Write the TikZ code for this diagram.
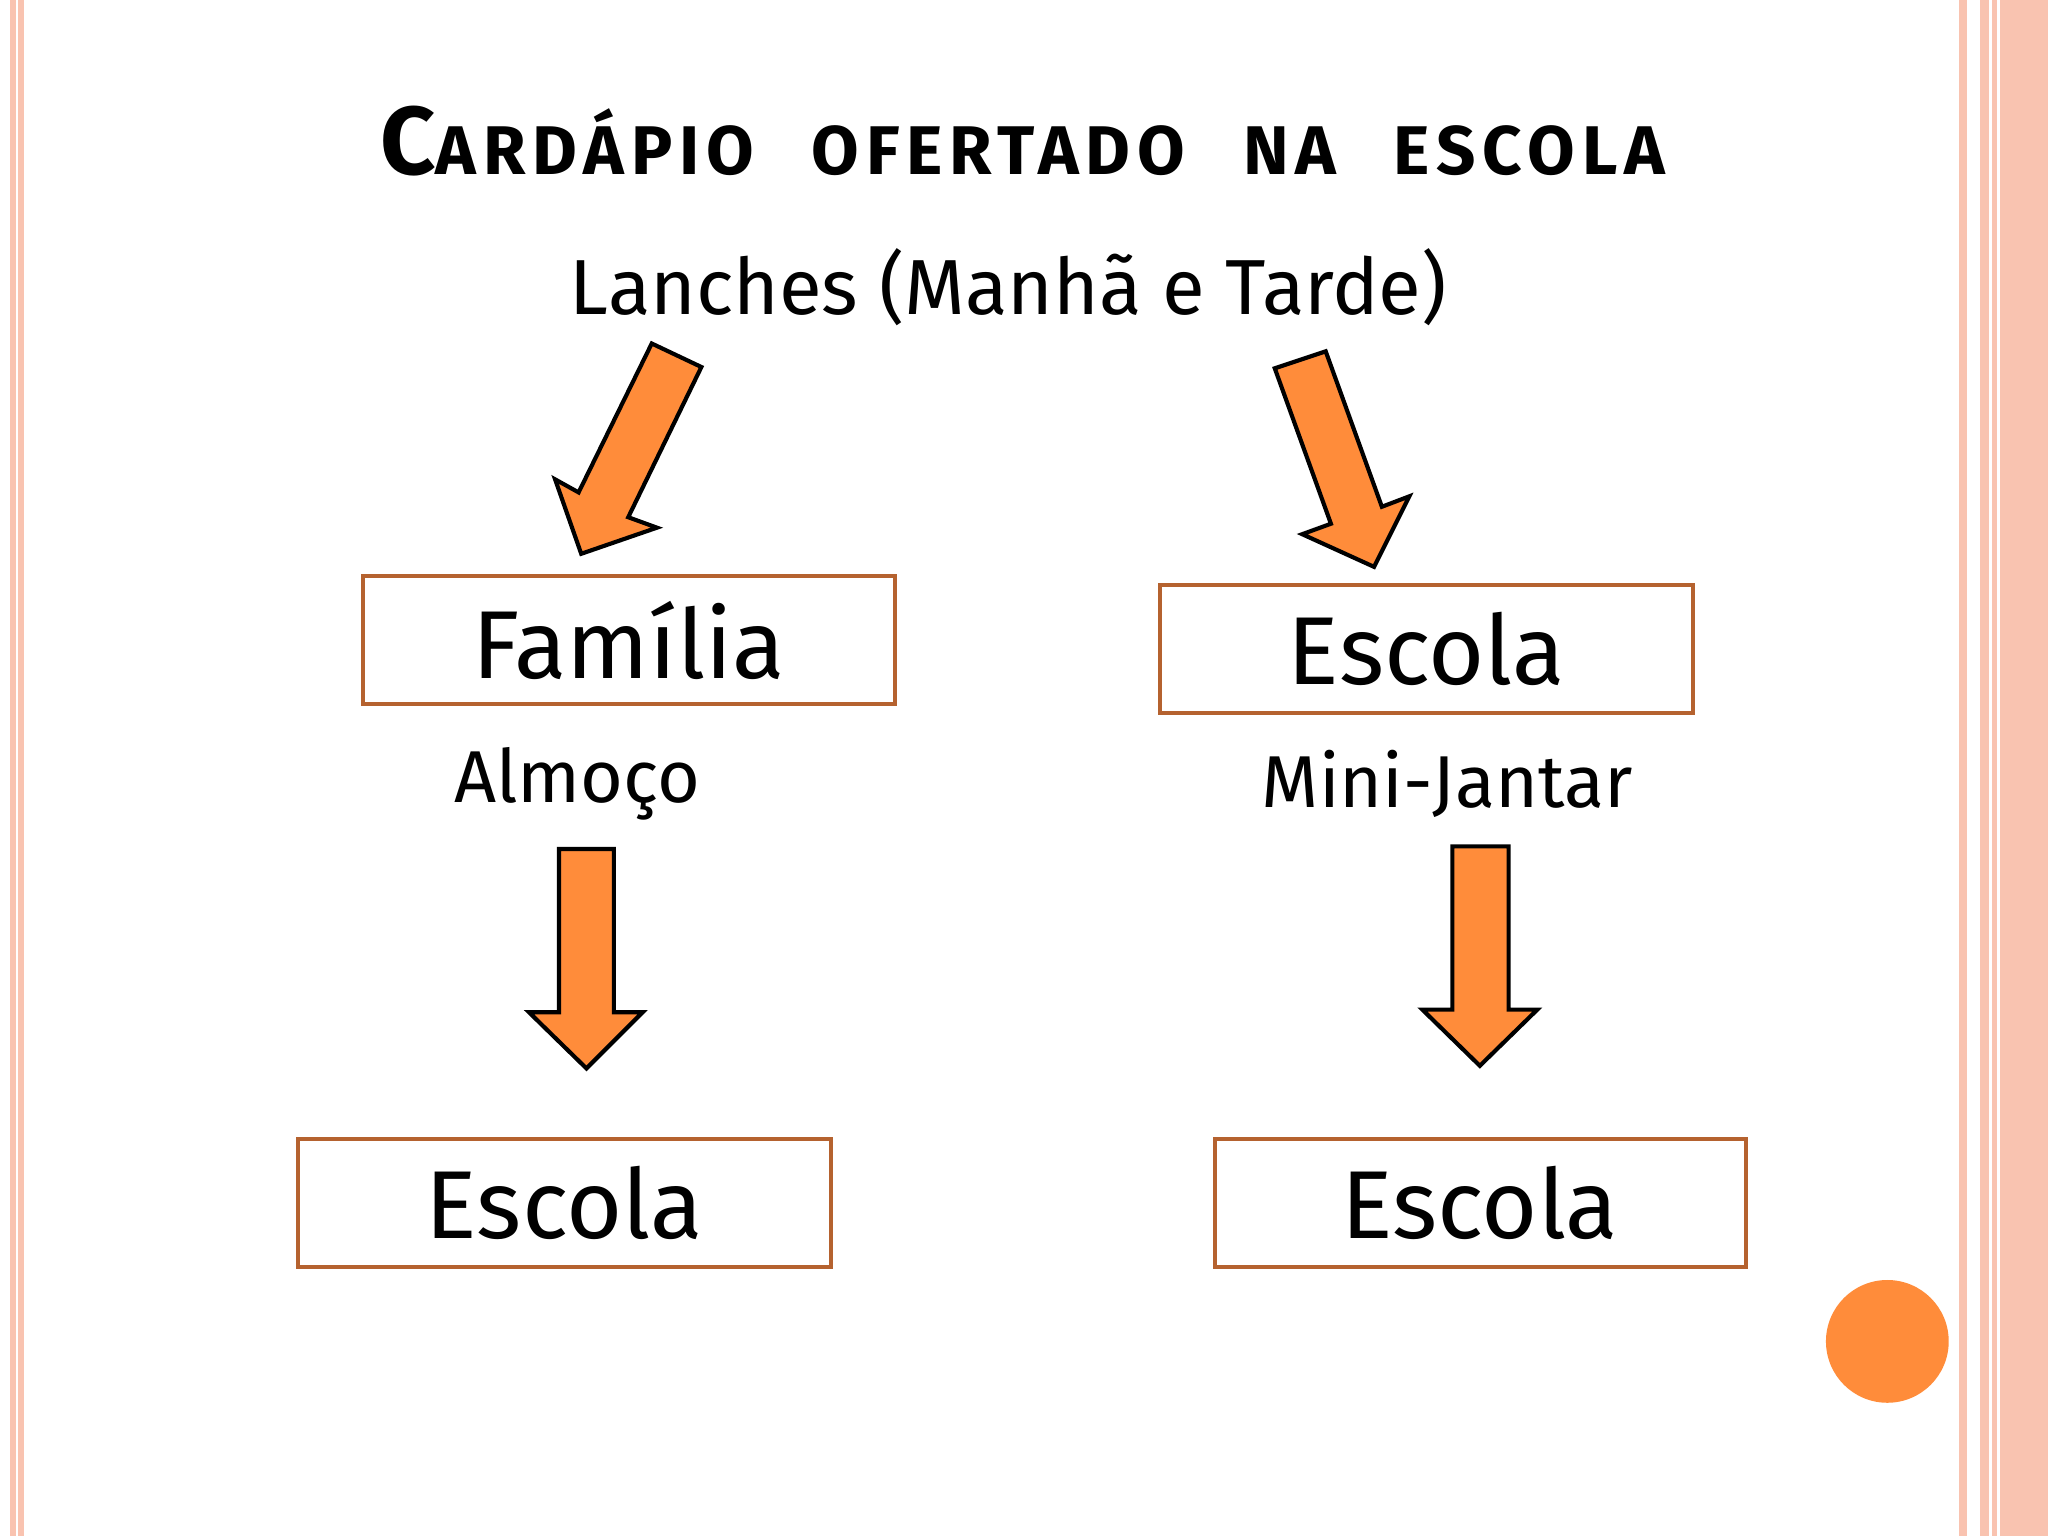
\documentclass[tikz,border=0pt]{standalone}
\usepackage{fontspec}
\setmainfont{Fira Sans}
\definecolor{org}{HTML}{FF8C3A}
\definecolor{brd}{HTML}{B5622F}
\definecolor{pk}{HTML}{F9C3B0}
\begin{document}
\begin{tikzpicture}[x=0.01cm,y=-0.01cm,
  box/.style={draw=brd,line width=0.9pt,fill=white},
  blk/.style={draw=black,fill=org,line width=0.9pt,line join=miter},
  lbl/.style={inner sep=0pt}]
\useasboundingbox (0,0) rectangle (1568,1176);
\fill[white] (0,0) rectangle (1568,1176);
\fill[pk] (8,0) rectangle (12,1176);
\fill[pk] (14,0) rectangle (18,1176);
\fill[pk] (1500,0) rectangle (1506,1176);
\fill[pk] (1516,0) rectangle (1568,1176);
\draw[white,line width=0.5pt] (1524,0)--(1524,1176) (1530,0)--(1530,1176);
\node[lbl] (title) at (783,108) {\addfontfeatures{LetterSpace=10}\fontsize{21}{24}\selectfont\bfseries C{\fontsize{15}{18}\selectfont ARDÁPIO\hspace{0.5em} OFERTADO\hspace{0.5em} NA\hspace{0.5em} ESCOLA}};
\node[lbl] (lan) at (772,220) {\fontsize{17}{22}\selectfont Lanches (Manhã e Tarde)};
\draw[blk] (499,263)--(443,377)--(425,367)--(445,424)--(503,404)--(481,396)--(537,281)--cycle;
\draw[blk] (976,282)--(1019,401)--(997,409)--(1052,434)--(1079,380)--(1058,388)--(1015,269)--cycle;
\draw[box] (278,441) rectangle (685,539);
\node[lbl] (famt) at (481.5,490) {\fontsize{21}{26}\selectfont Família};
\draw[box] (888,448) rectangle (1296,546);
\node[lbl] (esc1) at (1092,497) {\fontsize{21}{26}\selectfont Escola};
\node[lbl] (alm) at (442,600) {\fontsize{16}{20}\selectfont Almoço};
\node[lbl] (mj) at (1108,600) {\fontsize{16}{20}\selectfont Mini-Jantar};
\draw[blk] (428,650)--(470,650)--(470,775)--(492,775)--(449,818)--(405,775)--(428,775)--cycle;
\draw[blk] (1112,648)--(1155,648)--(1155,773)--(1177,773)--(1133,816)--(1089,773)--(1112,773)--cycle;
\draw[box] (228,872) rectangle (636,970);
\node[lbl] (esc2) at (432,921) {\fontsize{21}{26}\selectfont Escola};
\draw[box] (930,872) rectangle (1337,970);
\node[lbl] (esc3) at (1133,921) {\fontsize{21}{26}\selectfont Escola};
\fill[org] (1445,1027) circle (47);
\end{tikzpicture}
\end{document}
